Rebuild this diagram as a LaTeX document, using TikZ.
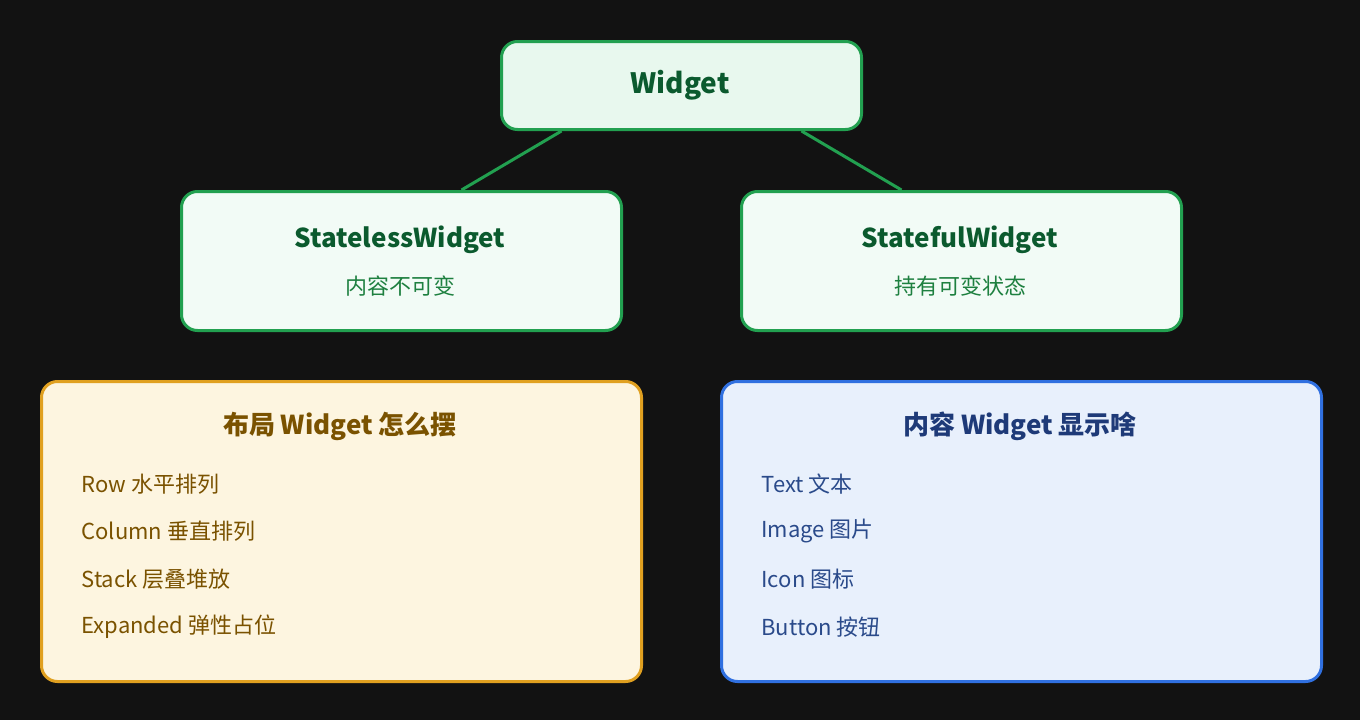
\documentclass[tikz,border=0pt]{standalone}
\usepackage{fontspec}
\setmainfont{Noto Sans CJK SC}
\usetikzlibrary{calc}
\definecolor{bg}{HTML}{121212}
\definecolor{gb}{HTML}{22A050}
\definecolor{gf1}{HTML}{E8F8EE}
\definecolor{gf2}{HTML}{F2FBF6}
\definecolor{gt}{HTML}{0B5A2E}
\definecolor{gs}{HTML}{1E8040}
\definecolor{yb}{HTML}{E0A020}
\definecolor{yf}{HTML}{FDF5E0}
\definecolor{yt}{HTML}{7A5200}
\definecolor{bb}{HTML}{3070E0}
\definecolor{bf}{HTML}{E8F0FC}
\definecolor{bt}{HTML}{1E3A78}
\definecolor{bi}{HTML}{2A4A8A}
\begin{document}
\begin{tikzpicture}[x=1pt,y=-1pt,
 box/.style={draw,line width=3pt,rounded corners=16pt,anchor=north west,inner sep=0pt},
 ttl/.style={font=\fontsize{26}{30}\selectfont\bfseries},
 sub/.style={font=\fontsize{22}{26}\selectfont,text=gs},
 item/.style={font=\fontsize{22}{26}\selectfont,anchor=west}]
\fill[bg] (0,0) rectangle (1360,720);
\useasboundingbox (0,0) rectangle (1360,720);
\node[box,draw=gb,fill=gf1,minimum width=360pt,minimum height=88pt] (w) at (500,40) {};
\node[box,draw=gb,fill=gf2,minimum width=440pt,minimum height=139pt] (sl) at (180,190) {};
\node[box,draw=gb,fill=gf2,minimum width=440pt,minimum height=139pt] (sf) at (740,190) {};
\node[box,draw=yb,fill=yf,minimum width=600pt,minimum height=300pt] (lay) at (40,380) {};
\node[box,draw=bb,fill=bf,minimum width=600pt,minimum height=300pt] (con) at (720,380) {};
\draw[gb,line width=3pt] ($(w.south)+(-120,0)$) -- ($(sl.north)+(60,0)$);
\draw[gb,line width=3pt] ($(w.south)+(120,0)$) -- ($(sf.north)+(-60,0)$);
\node[ttl,text=gt,font=\fontsize{28}{32}\selectfont\bfseries] (wt) at (680,85) {Widget};
\node[ttl,text=gt] (slt) at (400,240) {StatelessWidget};
\node[sub] (sls) at (400,286) {内容不可变};
\node[ttl,text=gt] (sft) at (960,240) {StatefulWidget};
\node[sub] (sfs) at (960,286) {持有可变状态};
\node[ttl,text=yt] (layt) at (340,426) {布局 Widget 怎么摆};
\node[item,text=yt] (l1) at (78,484) {Row 水平排列};
\node[item,text=yt] (l2) at (78,531) {Column 垂直排列};
\node[item,text=yt] (l3) at (78,579) {Stack 层叠堆放};
\node[item,text=yt] (l4) at (78,627) {Expanded 弹性占位};
\node[ttl,text=bt] (cont) at (1020,426) {内容 Widget 显示啥};
\node[item,text=bi] (c1) at (758,484) {Text 文本};
\node[item,text=bi] (c2) at (758,531) {Image 图片};
\node[item,text=bi] (c3) at (758,579) {Icon 图标};
\node[item,text=bi] (c4) at (758,627) {Button 按钮};
\end{tikzpicture}
\end{document}
